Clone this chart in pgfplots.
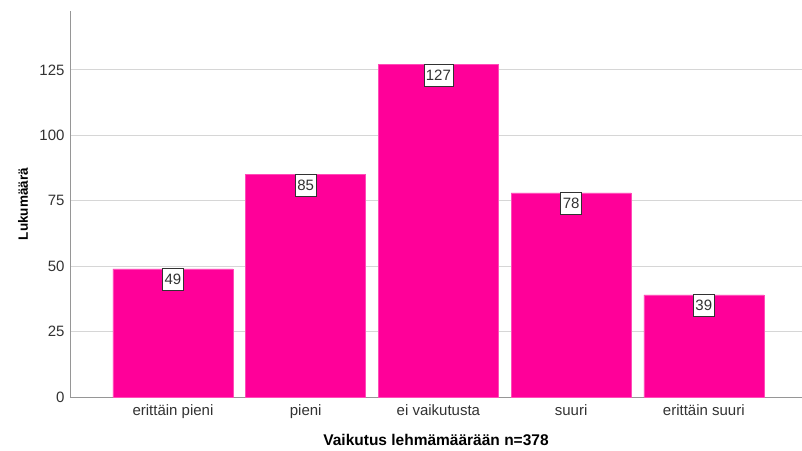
\documentclass[border=0pt]{standalone}
\usepackage{pgfplots}
\pgfplotsset{compat=1.18}
\usepackage{fontspec}
\setmainfont{Liberation Sans}
\definecolor{barpink}{RGB}{255,0,153}
\definecolor{gridgray}{RGB}{214,214,214}
\definecolor{axisgray}{RGB}{150,150,150}
\definecolor{labgray}{RGB}{50,50,50}
\begin{document}
\begin{tikzpicture}
\begin{axis}[
    at={(0,0)}, anchor=south west,
    scale only axis,
    width=732pt, height=386pt,
    ybar, bar width=120pt,
    xmin=-0.776, xmax=4.74,
    ymin=0, ymax=147.5,
    axis x line=bottom, axis y line=left,
    axis line style={-, axisgray, line width=0.8pt},
    ytick={0,25,50,75,100,125},
    xtick={0,1,2,3,4},
    xticklabels={erittäin pieni, pieni, ei vaikutusta, suuri, erittäin suuri},
    major tick length=0pt,
    ymajorgrids, grid style={gridgray, line width=0.8pt},
    /pgf/number format/assume math mode=true,
    tick label style={font=\fontsize{15}{17}\selectfont, text=labgray},
    yticklabel style={xshift=-2pt},
    xticklabel style={yshift=-4pt},
    xlabel={\textbf{Vaikutus lehmämäärään n=378}},
    ylabel={\textbf{Lukumäärä}},
    xlabel style={font=\fontsize{15.5}{18}\selectfont, at={(axis description cs:0.50,-0.111)}, anchor=center},
    ylabel style={font=\fontsize{13.5}{16}\selectfont, at={(axis description cs:-0.064,0.5)}, anchor=center},
    nodes near coords,
    every node near coord/.append style={anchor=north, fill=white, draw=labgray,
        line width=0.6pt, inner xsep=2pt, inner ysep=0pt, minimum height=22pt, text=labgray,
        font=\fontsize{15}{17}\selectfont, yshift=1pt},
]
\addplot[fill=barpink, draw=barpink!70!white, line width=0.5pt] coordinates {(0,49) (1,85) (2,127) (3,78) (4,39)};
\end{axis}
\pgfresetboundingbox
\path (-70pt,-53pt) rectangle (732pt,397pt);
\end{tikzpicture}
\end{document}
